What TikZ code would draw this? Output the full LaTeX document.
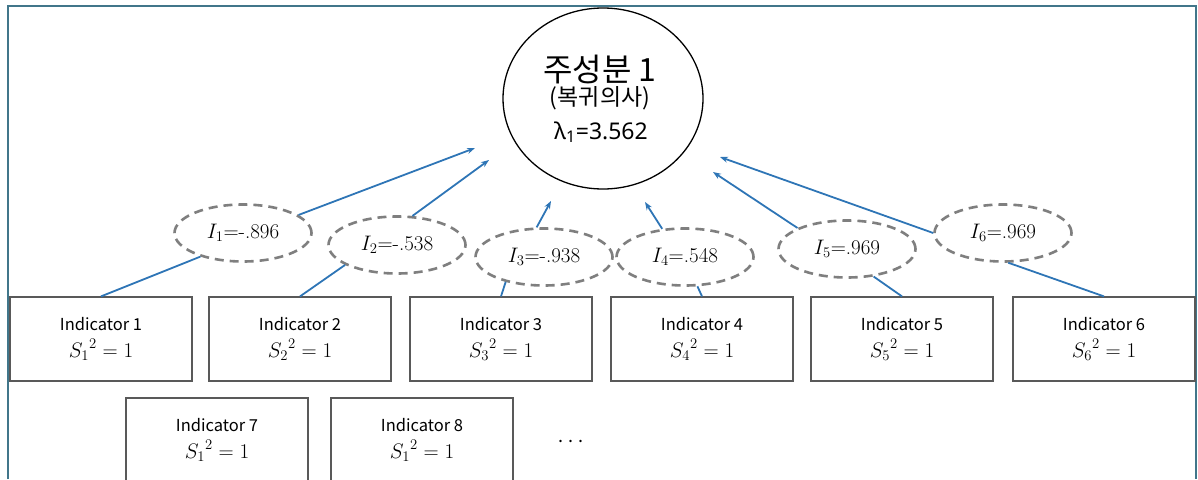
\RequirePackage{fix-cm}
\documentclass[tikz,border=0pt]{standalone}
\usepackage{fontspec}
\usepackage{xcolor}
\usepackage{tikz}
\usetikzlibrary{arrows.meta,shapes.geometric}
\newfontfamily\krfont{Noto Sans CJK KR}
\newfontfamily\grfont{Noto Sans}
\definecolor{frameblue}{HTML}{41768A}
\definecolor{linkblue}{HTML}{2E75B6}
\definecolor{dashgray}{HTML}{7F7F7F}
\definecolor{boxgray}{HTML}{595959}

\begin{document}
\begin{tikzpicture}[x=1pt,y=-1pt,
  indbox/.style={draw=boxgray,line width=1.2pt,minimum width=182pt,minimum height=84pt,inner sep=0pt,align=center,text=black,font=\krfont\fontsize{16.5}{27}\selectfont},
  load/.style={ellipse,draw=dashgray,line width=2.6pt,dash pattern=on 9pt off 6pt,minimum width=137pt,minimum height=57pt,inner sep=0pt,font=\fontsize{21}{24}\selectfont},
  link/.style={linkblue,line width=1.8pt},
  tolam/.style={link,-{Stealth[length=8pt,width=6pt]}}]
\useasboundingbox (0,0) rectangle (1198,479);
\draw[frameblue,line width=2pt] (8,479) -- (8,6) -- (1196,6) -- (1196,479);

\node[ellipse,draw,line width=1.3pt,minimum width=200pt,minimum height=181pt] (pc) at (603,98.5) {};
\node[font=\krfont\fontsize{32}{34}\selectfont] (pcname) at (600,69) {주성분 1};
\node[font=\krfont\fontsize{23}{25}\selectfont] (pcsub) at (600,98) {(복귀의사)};
\node[font=\grfont\fontsize{23}{26}\selectfont] (pclam) at (601,132) {λ\textsubscript{1}=3.562};

\node[load] (l1) at (243,233) {$I_1$=-.896};
\node[load] (l2) at (397,245) {$I_2$=-.538};
\node[load] (l3) at (544,257) {$I_3$=-.938};
\node[load] (l4) at (685,257) {$I_4$=.548};
\node[load] (l5) at (847,249) {$I_5$=.969};
\node[load] (l6) at (1003,233) {$I_6$=.969};

\node[indbox] (b1) at (101,339) {Indicator 1\\{\fontsize{21}{27}\selectfont${S_1}^2=1$}};
\node[indbox] (b2) at (300,339) {Indicator 2\\{\fontsize{21}{27}\selectfont${S_2}^2=1$}};
\node[indbox] (b3) at (501,339) {Indicator 3\\{\fontsize{21}{27}\selectfont${S_3}^2=1$}};
\node[indbox] (b4) at (702,339) {Indicator 4\\{\fontsize{21}{27}\selectfont${S_4}^2=1$}};
\node[indbox] (b5) at (902,339) {Indicator 5\\{\fontsize{21}{27}\selectfont${S_5}^2=1$}};
\node[indbox] (b6) at (1104,339) {Indicator 6\\{\fontsize{21}{27}\selectfont${S_6}^2=1$}};
\node[indbox] (b7) at (217,440) {Indicator 7\\{\fontsize{21}{27}\selectfont${S_1}^2=1$}};
\node[indbox] (b8) at (422,440) {Indicator 8\\{\fontsize{21}{27}\selectfont${S_1}^2=1$}};
\node[font=\krfont\fontsize{18}{20}\selectfont] (more) at (571,441) {. . .};

\coordinate (t1) at (475,148);
\coordinate (t2) at (489,160);
\coordinate (t3) at (551,201);
\coordinate (t4) at (645,202);
\coordinate (t5) at (713,172);
\coordinate (t6) at (720,157);

\draw[link] (b1.north) -- (l1.209);
\draw[link] (b2.north) -- (l2.201);
\draw[link] (b3.north) -- (l3.213);
\draw[link] (b4.north) -- (l4.293);
\draw[link] (b5.north) -- (l5.314);
\draw[link] (b6.north) -- (l6.280);
\draw[tolam] (l1.18) -- (t1);
\draw[tolam] (l2.62) -- (t2);
\draw[tolam] (l3.104) -- (t3);
\draw[tolam] (l4.129) -- (t4);
\draw[tolam] (l5.157) -- (t5);
\draw[tolam] (l6.180) -- (t6);
\end{tikzpicture}
\end{document}
